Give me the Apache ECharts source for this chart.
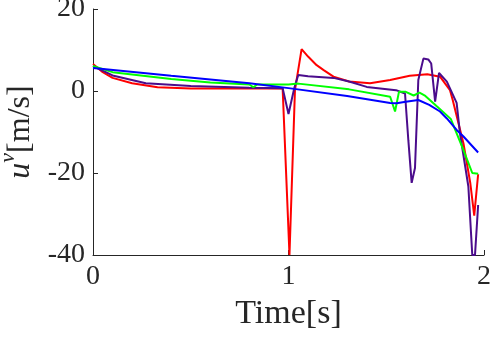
<!DOCTYPE html>
<html>
<head>
<meta charset="utf-8">
<script src="https://cdn.jsdelivr.net/npm/echarts@6/dist/echarts.min.js"></script>
<style>
  html, body { margin: 0; padding: 0; background: #fff; }
  #chart { width: 493px; height: 337px; }
</style>
</head>
<body>
<div id="chart"></div>
<script>
const xTicks = [0, 1, 2]
const yTicks = [-40, -20, 0, 20]

const redT = [0, 0.05, 0.1, 0.2, 0.33, 0.5, 0.7, 0.9, 0.97, 1.005, 1.033, 1.067, 1.1, 1.144, 1.18, 1.23, 1.31, 1.417, 1.52, 1.62, 1.71, 1.775, 1.826, 1.84, 1.895, 1.93, 1.95, 1.97]
const redV = [6.6, 4.6, 3.2, 1.9, 0.9, 0.6, 0.6, 0.7, 0.6, -40, 0.2, 10.2, 8.4, 6.3, 5.1, 3.5, 2.3, 1.9, 2.7, 3.7, 4.1, 3.5, 0.2, -2.2, -12.8, -22.5, -30.4, -20.3]

const purpleT = [0, 0.1, 0.27, 0.5, 0.8, 0.97, 1.0, 1.03, 1.05, 1.1, 1.23, 1.31, 1.4, 1.55, 1.596, 1.613, 1.63, 1.647, 1.664, 1.69, 1.715, 1.73, 1.75, 1.77, 1.81, 1.86, 1.877, 1.92, 1.94, 1.954, 1.97]
const purpleV = [6.1, 3.8, 1.9, 1.2, 0.8, 0.7, -5.6, 0.8, 3.9, 3.6, 3.2, 2.3, 1.0, 0.2, -0.6, -12, -22.4, -18.8, 2.7, 7.9, 7.7, 6.7, -2.6, 4.4, 2.3, -2.9, -10.3, -23.3, -40, -40, -27.8]

const greenT = [0, 0.1, 0.4, 0.6, 0.8, 0.82, 0.84, 1.0, 1.05, 1.31, 1.52, 1.545, 1.565, 1.6, 1.64, 1.67, 1.7, 1.76, 1.83, 1.895, 1.94, 1.97]
const greenV = [6.1, 4.6, 2.9, 2.1, 1.6, 0.9, 1.6, 1.6, 1.8, 0.4, -1.4, -5, -0.2, -0.2, -1.1, -0.4, -1.2, -3.8, -6.8, -14.4, -20, -20.2]

const blueT = [0, 0.4, 0.8, 1.0, 1.3, 1.52, 1.553, 1.6, 1.664, 1.72, 1.775, 1.81, 1.86, 1.895, 1.97]
const blueV = [5.6, 3.7, 1.9, 0.7, -1.2, -2.9, -3.0, -2.6, -2.2, -3.4, -5, -6.7, -9.5, -11.1, -15]

const pairs = (t, v) => t.map((x, i) => [x, v[i]])

const axisColor = '#262626'
const serif = 'Liberation Serif'

const chart = echarts.init(document.getElementById('chart'))

function lineSeries(name, t, v, color) {
  return {
    name,
    type: 'line',
    data: pairs(t, v),
    showSymbol: false,
    symbol: 'none',
    lineStyle: { color, width: 2 },
    itemStyle: { color },
    clip: true,
  }
}

chart.setOption({
  animation: false,
  textStyle: { fontFamily: serif },
  grid: {
    left: 93, right: 9, top: 9, bottom: 82,
    containLabel: false,
    outerBoundsMode: 'none',
  },
  xAxis: {
    type: 'value',
    min: xTicks[0],
    max: xTicks[xTicks.length - 1],
    interval: 1,
    name: 'Time[s]',
    nameLocation: 'middle',
    nameGap: 42,
    nameTextStyle: { fontFamily: serif, fontSize: 34, color: axisColor },
    axisLine: { show: true, onZero: false, lineStyle: { color: axisColor, width: 1 } },
    axisTick: { show: true, inside: true, length: 5, lineStyle: { color: axisColor } },
    axisLabel: { fontFamily: serif, fontSize: 28, color: axisColor, margin: 8 },
    splitLine: { show: false },
  },
  yAxis: {
    type: 'value',
    min: yTicks[0],
    max: yTicks[yTicks.length - 1],
    interval: 20,
    name: '{i|u}{sup|v}{n|[m/s]}',
    nameLocation: 'middle',
    nameRotate: 90,
    nameGap: 56,
    nameTextStyle: {
      fontFamily: serif,
      fontSize: 32,
      color: axisColor,
      rich: {
        i: { fontFamily: serif, fontStyle: 'italic', fontSize: 32, color: axisColor, lineHeight: 40, verticalAlign: 'bottom' },
        sup: { fontFamily: serif, fontStyle: 'italic', fontSize: 22, color: axisColor, lineHeight: 40, verticalAlign: 'top' },
        n: { fontFamily: serif, fontSize: 32, color: axisColor, lineHeight: 40, verticalAlign: 'bottom' },
      },
    },
    axisLine: { show: true, onZero: false, lineStyle: { color: axisColor, width: 1 } },
    axisTick: { show: true, inside: true, length: 5, lineStyle: { color: axisColor } },
    axisLabel: { fontFamily: serif, fontSize: 28, color: axisColor, margin: 8 },
    splitLine: { show: false },
  },
  series: [
    lineSeries('red', redT, redV, '#ff0000'),
    lineSeries('purple', purpleT, purpleV, '#4b0c8c'),
    lineSeries('green', greenT, greenV, '#00ff00'),
    lineSeries('blue', blueT, blueV, '#0000ff'),
  ],
})

window.addEventListener('resize', () => chart.resize())
</script>
</body>
</html>
